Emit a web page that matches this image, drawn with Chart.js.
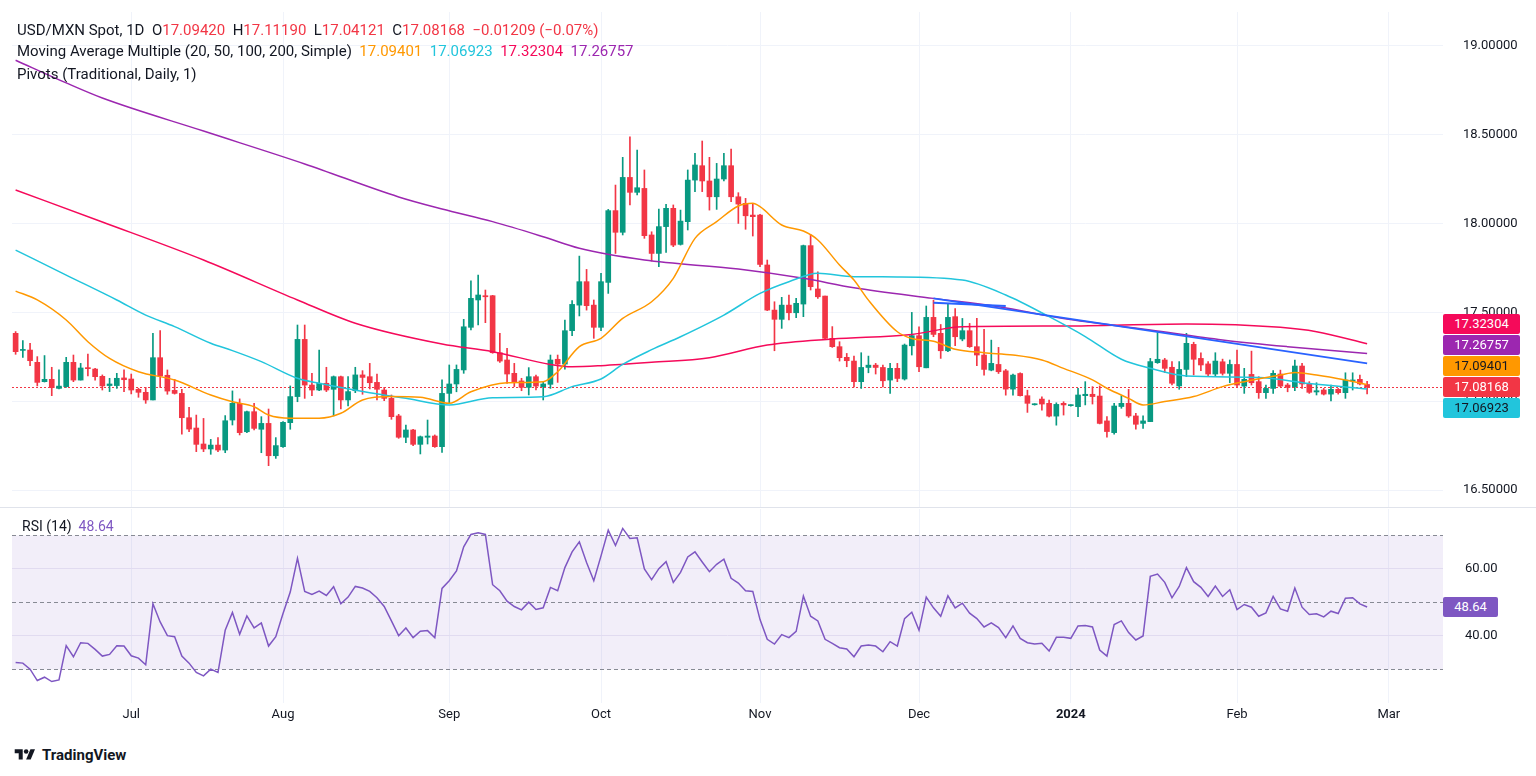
<!DOCTYPE html>
<html><head><meta charset="utf-8">
<script src="https://cdn.jsdelivr.net/npm/chart.js@4.4.1/dist/chart.umd.min.js"></script>
<style>
html,body{margin:0;padding:0;background:#fff;width:1536px;height:776px;overflow:hidden;font-family:Roboto,"Noto Sans",sans-serif;color:#131722;}
#wrap{position:relative;width:1536px;height:776px;}
#mainBox{position:absolute;left:0;top:0;width:1536px;height:507px;}
#rsiBox{position:absolute;left:0;top:507px;width:1536px;height:232px;}
#sep{position:absolute;left:0;top:507px;width:1536px;height:1px;background:#E0E3EB;}
.legend{position:absolute;left:17px;font-size:15px;line-height:20px;white-space:nowrap;color:#131722;}
.r{color:#F23645;}
.vbox{position:absolute;left:1443px;width:77px;height:20px;line-height:20px;font-size:13px;text-align:center;border-radius:2px;}
#logo{position:absolute;left:12px;top:745px;height:20px;display:flex;align-items:center;font-size:15px;font-weight:bold;color:#131722;}
</style></head>
<body><div id="wrap">
<div id="mainBox"><canvas id="mainChart"></canvas></div>
<div id="sep"></div>
<div id="rsiBox"><canvas id="rsiChart"></canvas></div>
<div class="legend" style="top:20px">USD/MXN Spot, 1D&nbsp; O<span class="r">17.09420</span>&nbsp; H<span class="r">17.11190</span>&nbsp; L<span class="r">17.04121</span>&nbsp; C<span class="r">17.08168</span>&nbsp; <span class="r">−0.01209 (−0.07%)</span></div>
<div class="legend" style="top:41px">Moving Average Multiple (20, 50, 100, 200, Simple)&nbsp; <span style="color:#FF9800">17.09401</span>&nbsp; <span style="color:#22C5DC">17.06923</span>&nbsp; <span style="color:#F50A5A">17.32304</span>&nbsp; <span style="color:#9C27B0">17.26757</span></div>
<div class="legend" style="top:64px">Pivots (Traditional, Daily, 1)</div>
<div class="legend" style="top:516px;left:22px;font-size:14px">RSI (14)&nbsp; <span style="color:#7E57C2">48.64</span></div>
<div id="logo"><svg width="26" height="16" viewBox="0 0 36 28" style="margin-right:4px"><path d="M14 22H7V11H0V4h14v18z" fill="#131722"/><circle cx="20" cy="8" r="4" fill="#131722"/><path d="M28 22h-8l7.5-18h8L28 22z" fill="#131722"/></svg>TradingView</div>
</div>
<script>
// ---------- DATA ----------
const opens = [
17.382,17.286,17.288,17.219,17.110,17.123,17.072,17.082,17.219,17.119,
17.189,17.181,17.140,17.088,17.088,17.131,17.125,17.067,17.050,17.007,
17.245,17.146,17.061,17.044,16.907,16.849,16.759,16.731,16.753,16.725,
16.894,16.988,16.828,16.941,16.842,16.875,16.693,16.744,16.879,17.026,
17.348,17.091,17.063,17.101,17.067,17.138,17.007,17.059,17.148,17.138,
17.106,17.063,17.016,16.917,16.797,16.838,16.757,16.797,16.804,16.744,
17.044,17.097,17.176,17.416,17.570,17.594,17.594,17.273,17.232,17.157,
17.114,17.078,17.138,17.082,17.095,17.236,17.209,17.397,17.541,17.673,
17.541,17.416,17.669,18.073,17.951,18.260,18.176,18.198,17.936,17.832,
17.983,18.086,17.883,18.011,18.245,18.326,18.240,18.151,18.251,18.326,
18.151,18.114,18.048,18.048,17.767,17.513,17.461,17.541,17.498,17.547,
17.876,17.632,17.592,17.354,17.307,17.247,17.226,17.110,17.190,17.203,
17.190,17.119,17.185,17.125,17.312,17.369,17.188,17.472,17.382,17.284,
17.476,17.350,17.397,17.307,17.260,17.175,17.207,17.171,17.068,17.156,
17.031,16.980,17.012,16.988,16.916,16.988,16.975,16.969,17.031,17.039,
17.029,16.889,16.823,16.970,16.988,16.917,16.875,16.885,17.217,17.232,
17.191,17.086,17.179,17.320,17.241,17.210,17.153,17.222,17.157,17.207,
17.085,17.151,17.110,17.048,17.072,17.153,17.091,17.082,17.198,17.097,
17.052,17.063,17.040,17.067,17.048,17.114,17.123,17.0942];
const highs = [
17.392,17.341,17.326,17.251,17.257,17.191,17.176,17.247,17.260,17.213,
17.266,17.185,17.148,17.129,17.157,17.176,17.153,17.073,17.078,17.382,
17.397,17.176,17.123,17.067,16.965,16.922,16.903,16.785,16.795,16.919,
17.058,17.013,16.945,16.988,16.913,16.956,16.795,16.885,17.086,17.429,
17.429,17.157,17.288,17.191,17.142,17.142,17.138,17.191,17.172,17.213,
17.153,17.078,17.035,16.926,16.866,16.842,16.804,16.894,16.810,17.120,
17.204,17.204,17.461,17.678,17.710,17.626,17.596,17.382,17.298,17.213,
17.129,17.189,17.147,17.106,17.260,17.260,17.457,17.566,17.817,17.742,
17.570,17.720,18.080,18.217,18.373,18.489,18.414,18.302,17.954,18.082,
18.108,18.105,18.076,18.302,18.395,18.465,18.373,18.339,18.395,18.420,
18.174,18.142,18.110,18.052,17.795,17.560,17.585,17.598,17.579,17.879,
17.939,17.729,17.592,17.420,17.335,17.269,17.254,17.273,17.254,17.213,
17.203,17.213,17.213,17.322,17.500,17.419,17.536,17.569,17.432,17.545,
17.522,17.466,17.438,17.466,17.404,17.344,17.303,17.179,17.153,17.160,
17.062,16.986,17.025,17.006,16.991,16.997,16.980,17.073,17.110,17.082,
17.086,16.913,16.988,17.031,17.067,16.932,16.917,17.241,17.386,17.241,
17.223,17.223,17.382,17.332,17.273,17.223,17.273,17.237,17.232,17.288,
17.185,17.282,17.138,17.091,17.172,17.175,17.100,17.232,17.213,17.110,
17.104,17.072,17.091,17.072,17.160,17.160,17.147,17.1119];
const lows = [
17.264,17.247,17.200,17.086,17.108,17.031,17.069,17.078,17.110,17.119,
17.142,17.119,17.063,17.054,17.072,17.054,17.041,17.022,16.988,17.007,
17.078,17.039,17.040,16.815,16.828,16.716,16.716,16.701,16.716,16.710,
16.866,16.810,16.823,16.838,16.710,16.637,16.678,16.740,16.842,16.997,
17.016,17.031,17.059,17.054,16.917,16.956,16.973,17.048,17.039,17.069,
17.007,17.003,16.898,16.791,16.767,16.750,16.703,16.759,16.740,16.712,
16.988,17.053,17.157,17.401,17.429,17.442,17.270,17.219,17.100,17.082,
17.059,17.035,17.063,17.007,17.072,17.106,17.181,17.369,17.480,17.513,
17.354,17.397,17.607,17.832,17.936,18.105,18.161,17.917,17.789,17.757,
17.838,17.870,17.879,17.964,18.180,18.180,18.076,18.080,18.240,18.123,
18.001,17.968,17.930,17.757,17.510,17.284,17.410,17.457,17.470,17.476,
17.626,17.579,17.350,17.303,17.226,17.194,17.081,17.072,17.160,17.153,
17.081,17.044,17.110,17.119,17.260,17.166,17.188,17.363,17.241,17.279,
17.312,17.340,17.303,17.200,17.147,17.171,17.156,17.034,17.034,17.029,
16.937,16.978,16.950,16.912,16.865,16.922,16.972,16.913,16.979,16.984,
16.872,16.797,16.815,16.960,16.909,16.842,16.847,16.885,17.213,17.161,
17.091,17.067,17.138,17.148,17.172,17.142,17.142,17.147,17.104,17.082,
17.044,17.091,17.016,17.016,17.044,17.082,17.053,17.059,17.072,17.044,
17.035,17.035,17.001,17.040,17.016,17.063,17.091,17.0412];
const closes = [
17.279,17.290,17.228,17.106,17.123,17.076,17.085,17.219,17.119,17.187,
17.183,17.138,17.086,17.097,17.129,17.121,17.063,17.050,17.007,17.245,
17.142,17.057,17.044,16.907,16.843,16.757,16.731,16.753,16.725,16.890,
16.988,16.823,16.941,16.847,16.875,16.693,16.750,16.881,17.026,17.348,
17.091,17.063,17.101,17.063,17.138,17.007,17.054,17.148,17.134,17.104,
17.067,17.016,16.913,16.797,16.838,16.757,16.800,16.804,16.744,17.044,
17.097,17.179,17.419,17.579,17.598,17.588,17.273,17.226,17.153,17.110,
17.078,17.138,17.085,17.097,17.232,17.209,17.397,17.545,17.673,17.538,
17.416,17.673,18.073,17.951,18.260,18.176,18.202,17.932,17.832,17.983,
18.086,17.879,18.014,18.245,18.330,18.240,18.151,18.251,18.326,18.151,
18.110,18.044,18.039,17.770,17.513,17.461,17.541,17.498,17.551,17.876,
17.645,17.588,17.354,17.307,17.245,17.228,17.110,17.190,17.203,17.190,
17.115,17.185,17.128,17.316,17.369,17.194,17.472,17.376,17.284,17.472,
17.363,17.397,17.307,17.260,17.179,17.213,17.166,17.068,17.147,17.031,
16.988,16.984,16.984,16.916,16.982,16.979,16.977,17.035,17.039,17.026,
16.875,16.829,16.973,16.988,16.917,16.870,16.889,17.223,17.236,17.185,
17.101,17.179,17.326,17.236,17.204,17.153,17.226,17.157,17.207,17.091,
17.123,17.104,17.048,17.072,17.157,17.085,17.078,17.198,17.097,17.050,
17.059,17.040,17.067,17.048,17.119,17.119,17.097,17.0817];

// moving averages (bar index, value)
const ma20Idx = [0,3,7,10,13,17,22,27,30,33,35,38,42,45,48,52,56,60,63,68,73,75,78,81,84,88,91,94,97,100,102,103,106,109,111,114,116,118,122,124,127,130,134,138,142,145,149,151,154,156,159,163,167,170,175,177,180,184,187];
const ma20Val = [17.62,17.570,17.457,17.335,17.241,17.166,17.119,17.035,16.997,16.969,16.922,16.904,16.904,16.932,17.007,17.026,17.022,16.988,17.053,17.104,17.110,17.166,17.307,17.354,17.466,17.560,17.692,17.917,18.011,18.099,18.114,18.095,17.992,17.958,17.908,17.767,17.682,17.569,17.391,17.353,17.338,17.292,17.273,17.260,17.232,17.185,17.120,17.073,17.016,16.979,16.998,17.026,17.082,17.110,17.147,17.162,17.147,17.119,17.094];
const ma50Idx = [0,7,14,18,22,27,30,34,39,42,49,54,60,66,73,77,81,84,88,92,98,103,107,111,116,122,131,137,143,148,153,157,162,172,179,187];
const ma50Val = [17.851,17.71,17.570,17.485,17.420,17.326,17.285,17.223,17.129,17.101,17.048,17.016,16.979,17.020,17.025,17.082,17.125,17.207,17.290,17.363,17.485,17.607,17.673,17.720,17.701,17.700,17.682,17.598,17.476,17.364,17.236,17.185,17.142,17.134,17.100,17.069];
const ma100Idx = [0,12,26,39,47,59,66,74,77,81,88,96,104,113,124,131,145,162,175,180,187];
const ma100Val = [18.189,18.009,17.795,17.570,17.439,17.322,17.279,17.207,17.194,17.200,17.219,17.245,17.316,17.350,17.376,17.419,17.423,17.435,17.416,17.391,17.323];
const ma200Idx = [0,7,12,26,40,53,59,66,73,78,87,100,109,116,127,136,145,157,167,176,187];
const ma200Val = [18.92,18.792,18.707,18.521,18.336,18.150,18.082,18.011,17.926,17.861,17.795,17.744,17.692,17.639,17.579,17.532,17.466,17.401,17.345,17.307,17.268];

// trend lines (bar index, value)
const trendAIdx = [127,187], trendAVal = [17.579,17.213];
const trendBIdx = [127,137], trendBVal = [17.555,17.536];

const rsi = [
32.1,31.9,30.1,26.7,27.7,26.4,26.9,37.1,33.8,38.0,
37.8,36.0,34.0,34.5,37.1,37.0,34.1,33.4,31.4,49.6,
44.2,40.1,39.8,34.0,31.9,29.1,28.1,30.1,29.1,41.7,
47.0,40.5,46.0,42.4,43.9,37.0,39.8,46.7,53.1,63.2,
53.3,52.4,53.4,52.1,54.7,49.6,51.6,54.8,54.3,53.3,
51.4,48.8,44.5,40.1,42.4,39.5,41.4,41.6,39.5,54.2,
56.5,59.4,66.6,70.3,70.8,70.3,55.3,53.5,50.4,48.8,
47.8,50.1,47.9,48.4,54.5,53.5,60.4,65.1,68.1,61.9,
56.5,63.9,71.6,67.0,72.1,69.1,69.3,60.0,56.8,60.1,
62.2,56.0,59.0,63.6,65.1,62.1,59.2,61.4,62.9,57.2,
55.8,53.5,53.3,44.9,39.0,37.6,40.4,39.5,41.4,51.9,
45.9,44.5,39.0,37.8,36.5,36.1,33.8,37.0,37.3,37.0,
35.3,38.3,37.0,45.2,47.1,41.7,51.6,48.4,45.9,52.0,
48.4,49.8,46.8,45.2,42.7,43.9,42.5,39.5,43.0,39.3,
38.0,37.6,37.8,35.5,39.6,39.6,39.3,43.0,43.1,42.7,
35.8,34.0,43.4,44.5,41.0,38.8,40.0,57.8,58.5,56.0,
51.4,54.8,60.4,56.2,54.5,51.8,54.9,51.8,53.8,47.9,
49.4,48.6,45.9,46.9,51.8,48.1,47.4,54.3,48.6,46.4,
46.6,45.7,47.4,46.7,51.3,51.4,49.6,48.64];

const priceTicks = [16.5,17.0,17.5,18.0,18.5,19.0];
const rsiTicks = [40,60];
const lastClose = 17.08168;
const lastRsi = 48.64;
const maLast = {ma20:17.09401, ma50:17.06923, ma100:17.32304, ma200:17.26757};
const monthNames = ['Jan','Feb','Mar','Apr','May','Jun','Jul','Aug','Sep','Oct','Nov','Dec'];
const firstDay = [2023,5,9];   // Jun 9, 2023
const totalSlots = 198;        // trading-day slots incl. empty right margin

// ---------- BUILD ----------
const nBars = closes.length;
const labels = [];
{ const d = new Date(Date.UTC(firstDay[0],firstDay[1],firstDay[2]));
  while (labels.length < totalSlots) {
    const wd = d.getUTCDay();
    if (wd !== 0 && wd !== 6) labels.push(d.toISOString().slice(0,10));
    d.setUTCDate(d.getUTCDate()+1);
  } }
const monthLabel = {};
for (let i=1;i<labels.length;i++){
  if (labels[i].slice(5,7) !== labels[i-1].slice(5,7)) {
    const m = parseInt(labels[i].slice(5,7),10)-1;
    monthLabel[i] = m===0 ? labels[i].slice(0,4) : monthNames[m];
  }
}
const gridColor = ctx => (monthLabel[ctx.index] !== undefined) ? '#F0F3FA' : 'rgba(0,0,0,0)';
const sparse = (idx, vals) => { const a = new Array(nBars).fill(null); idx.forEach((k,j)=>{a[k]=vals[j];}); return a; };

const UP='#089981', DN='#F23645';
const candleColors = closes.map((c,i)=> c>=opens[i] ? UP : DN);
const bodies = closes.map((c,i)=>[Math.min(opens[i],c), Math.max(opens[i],c)]);
const wicks = lows.map((l,i)=>[l, highs[i]]);

Chart.defaults.font.family = 'Roboto, "Noto Sans", sans-serif';
Chart.defaults.font.size = 13;
Chart.defaults.color = '#131722';

const lineDs = (label, data, color, width, order, tension) => ({
  type:'line', label, data, borderColor:color, borderWidth:width, pointRadius:0,
  spanGaps:true, cubicInterpolationMode: tension ? 'monotone' : 'default', tension:0, order, fill:false
});

const priceLinePlugin = {
  id:'priceLine',
  beforeDatasetsDraw(chart){
    const {ctx, chartArea:a, scales:{y}} = chart;
    const py = Math.round(y.getPixelForValue(lastClose))+0.5;
    ctx.save(); ctx.strokeStyle='#F23645'; ctx.lineWidth=1; ctx.setLineDash([2,2]);
    ctx.beginPath(); ctx.moveTo(a.left,py); ctx.lineTo(a.right,py); ctx.stroke(); ctx.restore();
  }
};

const mainChart = new Chart(document.getElementById('mainChart'), {
  type:'bar',
  data:{ labels, datasets:[
    lineDs('Trend A', sparse(trendAIdx,trendAVal), '#2962FF', 2, 0, false),
    lineDs('Trend B', sparse(trendBIdx,trendBVal), '#2962FF', 2, 0, false),
    lineDs('MA20', sparse(ma20Idx,ma20Val), '#FF9800', 1.5, 1, true),
    lineDs('MA50', sparse(ma50Idx,ma50Val), '#22C5DC', 1.5, 1, true),
    lineDs('MA100', sparse(ma100Idx,ma100Val), '#F50A5A', 1.5, 1, true),
    lineDs('MA200', sparse(ma200Idx,ma200Val), '#9C27B0', 1.5, 1, true),
    { type:'bar', label:'Body', data:bodies, backgroundColor:candleColors, barThickness:5, minBarLength:1, grouped:false, borderWidth:0, order:2 },
    { type:'bar', label:'Wick', data:wicks, backgroundColor:candleColors, barThickness:1, grouped:false, borderWidth:0, order:3 }
  ]},
  options:{
    animation:false, responsive:true, maintainAspectRatio:false,
    layout:{padding:{left:12, top:12, right:0, bottom:0}},
    plugins:{legend:{display:false}, tooltip:{enabled:false}},
    scales:{
      x:{ type:'category', offset:true,
          ticks:{display:false, autoSkip:false},
          grid:{offset:false, drawTicks:false, color:gridColor},
          border:{display:false},
          afterFit:s=>{ s.height=0; s.paddingLeft=0; s.paddingRight=0; } },
      y:{ position:'right', min:16.4043, max:19.1914,
          afterBuildTicks:s=>{ s.ticks = priceTicks.map(v=>({value:v})); },
          afterFit:s=>{ s.width=93; s.paddingTop=0; s.paddingBottom=0; },
          ticks:{ padding:20, color:'#131722', font:{size:13}, callback:v=>Number(v).toFixed(5) },
          grid:{ color:'#F0F3FA', drawTicks:false },
          border:{display:false} }
    }
  },
  plugins:[priceLinePlugin]
});

const rsiBandPlugin = {
  id:'rsiBand',
  beforeDatasetsDraw(chart){
    const {ctx, chartArea:a, scales:{y}} = chart;
    const y70 = y.getPixelForValue(70), y30 = y.getPixelForValue(30), y50 = y.getPixelForValue(50);
    ctx.save();
    ctx.fillStyle='rgba(126,87,194,0.1)';
    ctx.fillRect(a.left, y70, a.right-a.left, y30-y70);
    ctx.strokeStyle='#878A94'; ctx.lineWidth=1; ctx.setLineDash([4,3]);
    [y70,y50,y30].forEach(py=>{ const p=Math.round(py)+0.5; ctx.beginPath(); ctx.moveTo(a.left,p); ctx.lineTo(a.right,p); ctx.stroke(); });
    ctx.restore();
  }
};

const rsiChart = new Chart(document.getElementById('rsiChart'), {
  type:'line',
  data:{ labels, datasets:[
    { label:'RSI', data:rsi, borderColor:'#7E57C2', borderWidth:1.5, pointRadius:0, tension:0, fill:false }
  ]},
  options:{
    animation:false, responsive:true, maintainAspectRatio:false,
    layout:{padding:{left:12, top:2, right:0, bottom:0}},
    plugins:{legend:{display:false}, tooltip:{enabled:false}},
    scales:{
      x:{ type:'category', offset:true,
          ticks:{ autoSkip:false, maxRotation:0, minRotation:0, padding:4, color:'#131722',
                  font:ctx=>({size:13, weight:(ctx.tick && ctx.tick.label==='2024') ? 'bold' : 'normal'}),
                  callback:(v,i)=> monthLabel[i] !== undefined ? monthLabel[i] : '' },
          grid:{offset:false, drawTicks:false, color:gridColor},
          border:{display:false},
          afterFit:s=>{ s.height=36; s.paddingLeft=0; s.paddingRight=0; } },
      y:{ position:'right', min:20.0, max:77.9,
          afterBuildTicks:s=>{ s.ticks = rsiTicks.map(v=>({value:v})); },
          afterFit:s=>{ s.width=93; s.paddingTop=0; s.paddingBottom=0; },
          ticks:{ padding:22, color:'#131722', font:{size:13}, callback:v=>Number(v).toFixed(2) },
          grid:{ color:'#EDEAF5', drawTicks:false },
          border:{display:false} }
    }
  },
  plugins:[rsiBandPlugin]
});

// ---------- right-axis value boxes ----------
const wrap = document.getElementById('wrap');
function addBox(text, centerY, bg, fg, left, width){
  const d = document.createElement('div');
  d.className='vbox'; d.textContent=text;
  d.style.top=(centerY-10)+'px'; d.style.background=bg; d.style.color=fg;
  if (left!==undefined) d.style.left=left+'px';
  if (width!==undefined) d.style.width=width+'px';
  wrap.appendChild(d);
}
const ys = mainChart.scales.y;
const boxes = [
  {v:maLast.ma100, t:'17.32304', bg:'#F50A5A', fg:'#fff'},
  {v:maLast.ma200, t:'17.26757', bg:'#9C27B0', fg:'#fff'},
  {v:maLast.ma20,  t:'17.09401', bg:'#FF9800', fg:'#131722'},
  {v:lastClose,    t:'17.08168', bg:'#F23645', fg:'#fff', main:true},
  {v:maLast.ma50,  t:'17.06923', bg:'#22C5DC', fg:'#131722'}
];
const mainIdx = boxes.findIndex(b=>b.main);
const py0 = ys.getPixelForValue(lastClose);
boxes[mainIdx].y = py0;
let prev = py0;
for (let k=mainIdx-1;k>=0;k--){ const want=ys.getPixelForValue(boxes[k].v); boxes[k].y=Math.min(want, prev-21); prev=boxes[k].y; }
prev = py0;
for (let k=mainIdx+1;k<boxes.length;k++){ const want=ys.getPixelForValue(boxes[k].v); boxes[k].y=Math.max(want, prev+21); prev=boxes[k].y; }
boxes.forEach(b=>addBox(b.t, b.y, b.bg, b.fg));
const ry = rsiChart.scales.y.getPixelForValue(lastRsi) + 507;
addBox('48.64', ry, '#7E57C2', '#fff', 1443, 55);
</script>
</body></html>
